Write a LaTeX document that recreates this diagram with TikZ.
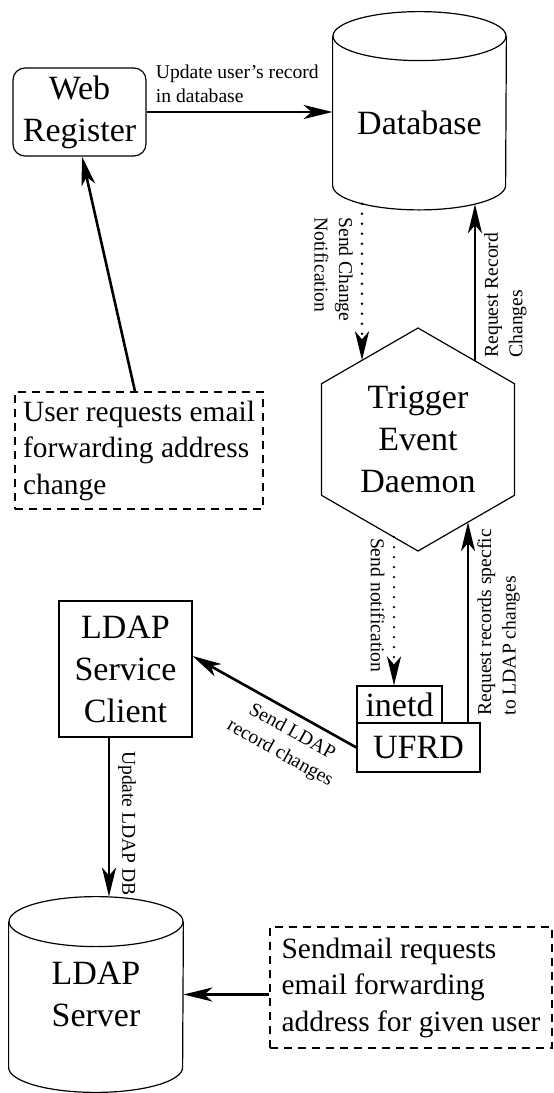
\documentclass[tikz,border=0pt]{standalone}
\usepackage{fontspec}
\setmainfont{Liberation Serif}
\usetikzlibrary{arrows.meta,calc,shapes.geometric}
\definecolor{ink}{HTML}{000000}
\newcommand{\nodesz}{\fontsize{17pt}{21pt}\selectfont}
\newcommand{\notesz}{\fontsize{14.7pt}{18.25pt}\selectfont}
\newcommand{\lblsz}{\fontsize{9.8pt}{12.25pt}\selectfont}
\tikzset{
  box/.style={draw=ink, line width=0.6pt, inner sep=0pt, align=center, font=\nodesz, text=ink},
  rbox/.style={box, rounded corners=6pt},
  notebox/.style={draw=ink, line width=0.6pt, dash pattern=on 4pt off 3pt, inner sep=0pt,
                  align=left, font=\notesz, text=ink},
  cylbody/.style={draw=none, inner sep=0pt, align=center, font=\nodesz, text=ink},
  hexa/.style={draw=ink, line width=0.6pt, regular polygon, regular polygon sides=6,
               shape border rotate=90, minimum size=111.5pt, inner sep=0pt,
               align=center, font=\nodesz, text=ink},
  outline/.style={draw=ink, line width=0.6pt},
  arr/.style={-{Stealth[length=14.5pt, width=7pt, inset=4pt]}, line width=1.3pt, draw=ink},
  dotarr/.style={arr, dash pattern=on 0pt off 5pt, line cap=round},
  lbl/.style={font=\lblsz, align=left, inner sep=4pt, text=ink},
}
\begin{document}
\begin{tikzpicture}[x=0.5pt, y=-0.5pt]
\useasboundingbox (0,0) rectangle (553,1093);

% boxes
\node[rbox, minimum width=66.5pt, minimum height=44pt] (web) at (79.5,112) {Web\\Register};
\node[notebox, minimum width=124pt, minimum height=58.5pt] (umsg) at (139,450.5)
  {User requests email\\forwarding address\\change};
\node[hexa] (ted) at (418,439.5) {Trigger\\Event\\Daemon};
\node[box, minimum width=42.5pt, minimum height=18.5pt] (inetd) at (399.5,704.5) {inetd};
\node[box, minimum width=61.5pt, minimum height=24.5pt] (ufrd) at (418.5,747.5) {UFRD};
\node[box, minimum width=66.5pt, minimum height=68pt] (client) at (125.5,669) {LDAP\\Service\\Client};
\node[notebox, minimum width=141pt, minimum height=60.5pt] (smsg) at (411,987.5)
  {Sendmail requests\\email forwarding\\address for given user};

% the two databases
\node[cylbody, minimum width=86.5pt, minimum height=74.25pt] (db) at (419.5,110.75) {};
\node[cylbody] (dbtxt) at ([yshift=-6.3pt]db.center) {Database};
\draw[outline] (db.north west) -- (db.south west)
  arc[start angle=180, end angle=360, x radius=43.25pt, y radius=12.25pt] -- (db.north east);
\draw[outline] (db.north) ellipse [x radius=43.25pt, y radius=12.25pt];

\node[cylbody, minimum width=87pt, minimum height=72.5pt] (ldap) at (96,994.5) {LDAP\\Server};
\draw[outline] (ldap.north west) -- (ldap.south west)
  arc[start angle=180, end angle=360, x radius=43.5pt, y radius=12.5pt] -- (ldap.north east);
\draw[outline] (ldap.north) ellipse [x radius=43.5pt, y radius=12.5pt];

% where the vertical arrows meet the curved and slanted borders
\coordinate (dbdot) at ($(db.south)+(-57.5,18.3)$);
\coordinate (dbreq) at ($(db.south)+(55.5,18.8)$);
\coordinate (tedin) at ($(ted)+(-56,-79.2)$);
\coordinate (tedreq) at ($(ted)+(57,-78.6)$);
\coordinate (tedout) at ($(ted)+(-24,97.6)$);
\coordinate (tedback) at ($(ted)+(50,82.6)$);
\coordinate (clientout) at ([xshift=-8.25pt]client.south);
\coordinate (ldaptop) at ([yshift=12.5pt]ldap.north);

% connectors
\draw[arr] (web.east) -- node[lbl, above right, pos=0] {Update user's record\\in database} (web.east -| db.west);
\draw[arr] ([xshift=-2pt]umsg.north) -- ([xshift=1.25pt]web.south);
\draw[dotarr] (dbdot) -- node[lbl, sloped, below, pos=0.42] {Send Change\\Notification} (dbdot |- tedin);
\draw[arr] (tedreq) -- node[lbl, sloped, below, pos=0.42] {Request Record\\Changes} (tedreq |- dbreq);
\draw[dotarr] (tedout) -- node[lbl, sloped, below, pos=0.46] {Send notification} (tedout |- inetd.north);
\draw[arr] (tedback |- ufrd.north) -- node[lbl, sloped, below, pos=0.5]
  {Request records specfic\\to LDAP changes} (tedback);
\draw[arr] (ufrd.west) -- node[lbl, sloped, below, pos=0.34, align=center]
  {Send LDAP\\record changes} ([yshift=6.5pt]client.east);
\draw[arr] (clientout) -- node[lbl, sloped, above, pos=0.54] {Update LDAP DB} (clientout |- ldaptop);
\draw[arr] (smsg.west |- ldap.east) -- (ldap.east);

\end{tikzpicture}
\end{document}
